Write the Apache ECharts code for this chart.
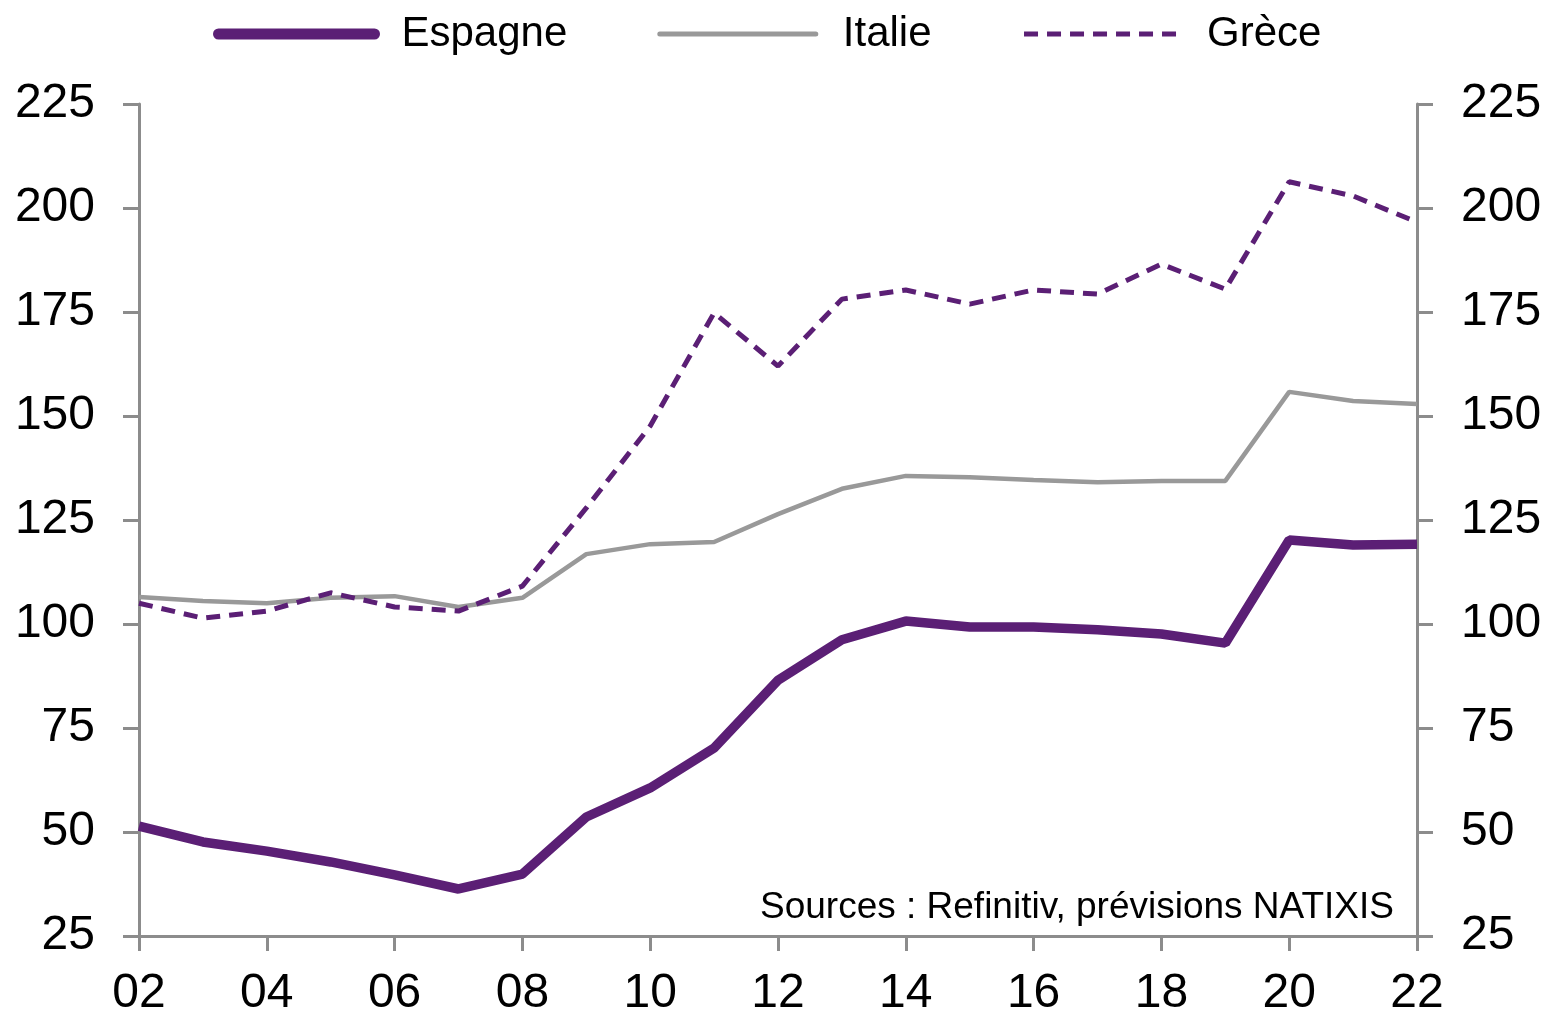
<!DOCTYPE html>
<html>
<head>
<meta charset="utf-8">
<script src="https://cdn.jsdelivr.net/npm/echarts@6/dist/echarts.min.js"></script>
<style>
  html, body { margin: 0; padding: 0; background: #fff; }
  #chart { width: 1552px; height: 1013px; }
</style>
</head>
<body>
<div id="chart"></div>
<script>
// années 2002 → 2022
const years = ['02','03','04','05','06','07','08','09','10','11','12','13','14','15','16','17','18','19','20','21','22'];
const espagne = [51.4, 47.6, 45.4, 42.8, 39.7, 36.3, 39.9, 53.6, 60.6, 70.2, 86.5, 96.2, 100.7, 99.3, 99.3, 98.6, 97.6, 95.4, 120.2, 119, 119.2];
const italie = [106.5, 105.5, 105, 106.3, 106.7, 104.1, 106.3, 116.8, 119.2, 119.7, 126.4, 132.5, 135.6, 135.3, 134.6, 134.1, 134.4, 134.4, 155.8, 153.6, 152.9];
const grece = [105, 101.4, 103.1, 107.5, 104.1, 103.1, 109.1, 127.9, 147.6, 174.8, 162, 178.1, 180.3, 176.9, 180.3, 179.3, 186.5, 180.5, 206.3, 202.9, 196.6];
const source = 'Sources : Refinitiv, prévisions NATIXIS';

const purple = '#5b1f75';
const grey = '#999999';
const axisGrey = '#8c8c8c';
const font = 'Liberation Sans, Arial, sans-serif';

const chart = echarts.init(document.getElementById('chart'));

function yAxis(pos) {
  return {
    type: 'value',
    position: pos,
    min: 25,
    max: 225,
    interval: 25,
    splitLine: { show: false },
    axisLine: { show: true, lineStyle: { color: axisGrey, width: 3 } },
    axisTick: { show: true, length: 16, lineStyle: { color: axisGrey, width: 3 } },
    axisLabel: { color: '#000', fontSize: 48, fontFamily: font, margin: 44 }
  };
}

const option = {
  animation: false,
  backgroundColor: '#fff',
  grid: { left: 139, right: 135, top: 104, bottom: 77, outerBoundsMode: 'none', containLabel: false },
  legend: {
    top: 8,
    left: 208,
    itemWidth: 156,
    itemHeight: 14,
    itemGap: 90,
    itemStyle: { opacity: 0 },
    textStyle: { color: '#000', fontSize: 42, fontFamily: font, padding: [0, 0, 0, 22] },
    data: [
      { name: 'Espagne', lineStyle: { width: 11, cap: 'round' } },
      { name: 'Italie', lineStyle: { width: 5, cap: 'round' } },
      { name: 'Grèce', lineStyle: { width: 5, type: [14, 9] } }
    ]
  },
  xAxis: {
    type: 'category',
    data: years,
    boundaryGap: false,
    axisLine: { lineStyle: { color: axisGrey, width: 3 } },
    axisTick: { show: true, interval: 1, length: 15, lineStyle: { color: axisGrey, width: 3 } },
    axisLabel: { interval: 1, color: '#000', fontSize: 48, fontFamily: font, margin: 34 }
  },
  yAxis: [yAxis('left'), yAxis('right')],
  graphic: [{
    type: 'text',
    right: 158,
    top: 889,
    style: { text: source, fontSize: 37, fontFamily: font, fill: '#000' }
  }],
  series: [
    {
      name: 'Espagne', type: 'line', data: espagne, symbol: 'none',
      lineStyle: { color: purple, width: 9.5 }, itemStyle: { color: purple }, z: 5
    },
    {
      name: 'Italie', type: 'line', data: italie, symbol: 'none',
      lineStyle: { color: grey, width: 4.5 }, itemStyle: { color: grey }, z: 3
    },
    {
      name: 'Grèce', type: 'line', data: grece, symbol: 'none',
      lineStyle: { color: purple, width: 5, type: [14, 9] }, itemStyle: { color: purple }, z: 4
    }
  ]
};

chart.setOption(option);
</script>
</body>
</html>
